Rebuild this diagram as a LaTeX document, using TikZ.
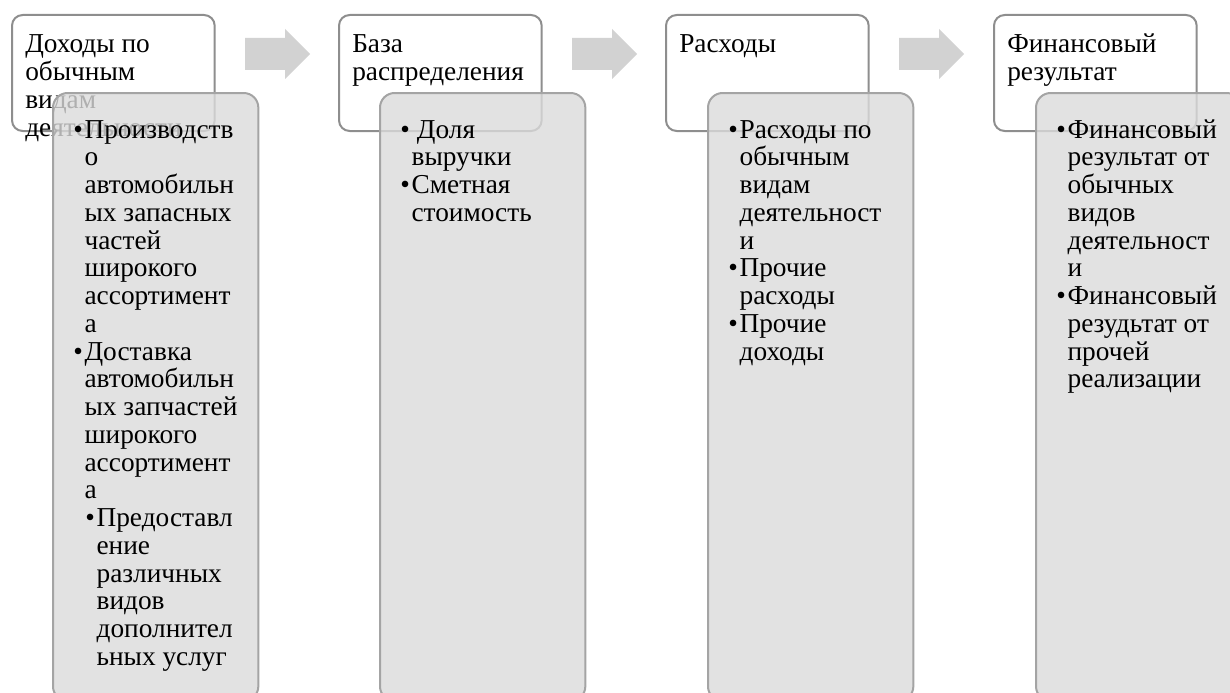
\documentclass[tikz,border=0pt]{standalone}
\usepackage{fontspec}
\setmainfont{Liberation Serif}
\usetikzlibrary{positioning}

\definecolor{headline}{HTML}{8E8E8E}
\definecolor{listline}{HTML}{A4A4A4}
\definecolor{listfill}{HTML}{DBDBDB}
\definecolor{arrowfill}{HTML}{D2D2D2}

\newcommand{\bul}{\makebox[8.5pt][l]{•}}
\newcommand{\cont}{\hspace{8.5pt}}

\tikzset{
    headbox/.style={draw=headline, line width=1.5pt, rounded corners=8pt,
        fill=white, anchor=north west, inner sep=0pt,
        minimum width=152pt, minimum height=87pt},
    listbox/.style={draw=listline, line width=1.5pt, rounded corners=11pt,
        fill=listfill, fill opacity=0.8, anchor=north west, inner sep=0pt,
        minimum width=154pt, minimum height=456pt},
    boxtext/.style={anchor=base west, inner sep=0pt,
        font=\fontsize{20.5pt}{20.8pt}\selectfont}
}

\begin{document}
\begin{tikzpicture}[x=0.75pt, y=-0.75pt]
                \useasboundingbox (0,0) rectangle (1230,692);
                \clip (0,0) rectangle (1230,692);

                \foreach \x in {245,572,899}
                    \fill[arrowfill] (\x,38) -- ++(40,0) -- ++(0,-9) -- ++(25,25)
                        -- ++(-25,25) -- ++(0,-9) -- ++(-40,0) -- cycle;

                \node[headbox] (income) at (11,14) {};
                \node[boxtext] (incometxt) at ([shift={(14,39)}]income.north west)
                    {\begin{tabular}[t]{@{}l@{}}Доходы по\\ обычным\\ видам\\ деятельности\end{tabular}};
                \node[listbox] (incomelist) at (52,92) {};
                \node[boxtext] (incomeitems) at ([shift={(21,46)}]incomelist.north west)
                    {\begin{tabular}[t]{@{}l@{}}
                    \bul Производств\\ \cont о\\ \cont автомобильн\\ \cont ых запасных\\
                    \cont частей\\ \cont широкого\\ \cont ассортимент\\ \cont а\\
                    \bul Доставка\\ \cont автомобильн\\ \cont ых запчастей\\ \cont широкого\\
                    \cont ассортимент\\ \cont а\\
                    \hspace{9pt}\bul Предоставл\\ \hspace{9pt}\cont ение\\
                    \hspace{9pt}\cont различных\\ \hspace{9pt}\cont видов\\
                    \hspace{9pt}\cont дополнител\\ \hspace{9pt}\cont ьных услуг
                    \end{tabular}};

                \node[headbox] (base) at (338,14) {};
                \node[boxtext] (basetxt) at ([shift={(14,39)}]base.north west)
                    {\begin{tabular}[t]{@{}l@{}}База\\ распределения\end{tabular}};
                \node[listbox] (baselist) at (379,92) {};
                \node[boxtext] (baseitems) at ([shift={(21,46)}]baselist.north west)
                    {\begin{tabular}[t]{@{}l@{}}
                    \bul\hspace{4pt}Доля\\ \cont выручки\\
                    \bul Сметная\\ \cont стоимость
                    \end{tabular}};

                \node[headbox] (costs) at (665,14) {};
                \node[boxtext] (coststxt) at ([shift={(14,39)}]costs.north west)
                    {\begin{tabular}[t]{@{}l@{}}Расходы\end{tabular}};
                \node[listbox] (costslist) at (707,92) {};
                \node[boxtext] (costsitems) at ([shift={(21,46)}]costslist.north west)
                    {\begin{tabular}[t]{@{}l@{}}
                    \bul Расходы по\\ \cont обычным\\ \cont видам\\ \cont деятельност\\ \cont и\\
                    \bul Прочие\\ \cont расходы\\
                    \bul Прочие\\ \cont доходы
                    \end{tabular}};

                \node[headbox] (result) at (993,14) {};
                \node[boxtext] (resulttxt) at ([shift={(14,39)}]result.north west)
                    {\begin{tabular}[t]{@{}l@{}}Финансовый\\ результат\end{tabular}};
                \node[listbox] (resultlist) at (1035,92) {};
                \node[boxtext] (resultitems) at ([shift={(21,46)}]resultlist.north west)
                    {\begin{tabular}[t]{@{}l@{}}
                    \bul Финансовый\\ \cont результат от\\ \cont обычных\\ \cont видов\\
                    \cont деятельност\\ \cont и\\
                    \bul Финансовый\\ \cont резудьтат от\\ \cont прочей\\ \cont реализации
                    \end{tabular}};
\end{tikzpicture}
\end{document}
